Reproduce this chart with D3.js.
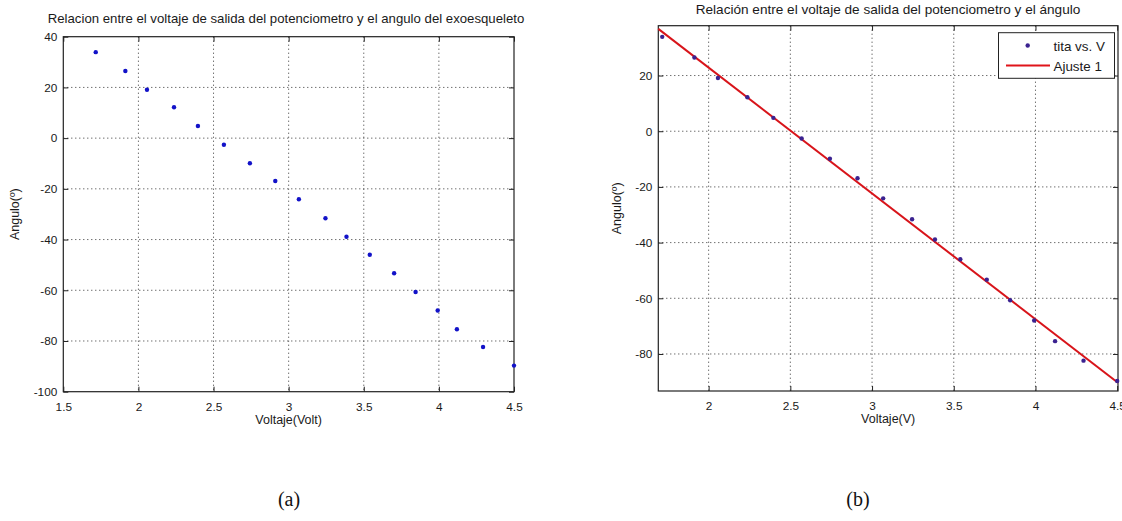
<!DOCTYPE html>
<html>
<head>
<meta charset="utf-8">
<script src="https://cdn.jsdelivr.net/npm/d3@7"></script>
<style>
  body { margin: 0; background: #fff; }
</style>
</head>
<body>
<div id="chart"></div>
<script>
// data
var voltaje = [1.716, 1.913, 2.057, 2.237, 2.396, 2.569, 2.742, 2.911, 3.068,
               3.245, 3.385, 3.540, 3.702, 3.845, 3.992, 4.120, 4.294, 4.500];
var angulo  = [33.9, 26.5, 19.1, 12.2, 4.8, -2.6, -9.9, -16.9, -24.1,
               -31.6, -38.9, -46.0, -53.3, -60.7, -68.0, -75.4, -82.4, -89.7];

var xTicksA = [1.5, 2, 2.5, 3, 3.5, 4, 4.5];
var yTicksA = [-100, -80, -60, -40, -20, 0, 20, 40];
var xTicksB = [2, 2.5, 3, 3.5, 4, 4.5];
var yTicksB = [-80, -60, -40, -20, 0, 20];

var legendLabels = ["tita vs. V", "Ajuste 1"];
var captions = ["(a)", "(b)"];

var sans = "'Liberation Sans', Arial, sans-serif";
var serif = "'Liberation Serif', 'Times New Roman', serif";

// least squares line for "Ajuste 1"
var mx = d3.mean(voltaje), my = d3.mean(angulo);
var sxy = d3.sum(voltaje, function(d,i){ return (d-mx)*(angulo[i]-my); });
var sxx = d3.sum(voltaje, function(d){ return (d-mx)*(d-mx); });
var slope = sxy/sxx, intercept = my - slope*mx;

var svg = d3.select("#chart").append("svg")
  .attr("width", 1122)
  .attr("height", 521)
  .style("font-family", sans);

function panel(cfg) {
  var x = d3.scaleLinear().domain(cfg.xDomain).range([cfg.left, cfg.right]);
  var y = d3.scaleLinear().domain(cfg.yDomain).range([cfg.bottom, cfg.top]);
  var g = svg.append("g");
  var w = cfg.right - cfg.left, h = cfg.bottom - cfg.top;

  // dotted grid
  g.selectAll("line.gx").data(cfg.xTicks.filter(function(t){ return x(t) > cfg.left+1 && x(t) < cfg.right-1; }))
    .enter().append("line")
      .attr("x1", function(d){ return x(d); }).attr("x2", function(d){ return x(d); })
      .attr("y1", cfg.top).attr("y2", cfg.bottom)
      .attr("stroke", "#333").attr("stroke-width", 1)
      .attr("stroke-dasharray", "1,3");
  g.selectAll("line.gy").data(cfg.yTicks.filter(function(t){ return y(t) > cfg.top+1 && y(t) < cfg.bottom-1; }))
    .enter().append("line")
      .attr("x1", cfg.left).attr("x2", cfg.right)
      .attr("y1", function(d){ return y(d); }).attr("y2", function(d){ return y(d); })
      .attr("stroke", "#333").attr("stroke-width", 1)
      .attr("stroke-dasharray", "1,3");

  // axes, ticks pointing inwards
  var fmt = function(d){ return String(d); };
  g.append("g").attr("transform", "translate(0," + cfg.bottom + ")")
    .call(d3.axisBottom(x).tickValues(cfg.xTicks).tickFormat(fmt).tickSize(-5).tickPadding(11));
  g.append("g").attr("transform", "translate(" + cfg.left + ",0)")
    .call(d3.axisLeft(y).tickValues(cfg.yTicks).tickFormat(fmt).tickSize(-5).tickPadding(6));
  g.append("g").attr("transform", "translate(0," + cfg.top + ")")
    .call(d3.axisTop(x).tickValues(cfg.xTicks).tickFormat("").tickSize(-5));
  g.append("g").attr("transform", "translate(" + cfg.right + ",0)")
    .call(d3.axisRight(y).tickValues(cfg.yTicks).tickFormat("").tickSize(-5));
  g.selectAll(".domain").remove();
  g.selectAll(".tick line").attr("stroke", "#222");
  g.selectAll(".tick text")
    .style("font-family", sans).style("font-size", "11.8px")
    .attr("fill", "#1a1a1a");

  g.append("rect")
    .attr("x", cfg.left).attr("y", cfg.top)
    .attr("width", w).attr("height", h)
    .attr("fill", "none").attr("stroke", "#222").attr("stroke-width", 1.2);

  if (cfg.fit) {
    g.append("line")
      .attr("x1", x(cfg.xDomain[0])).attr("y1", y(slope*cfg.xDomain[0] + intercept))
      .attr("x2", x(cfg.xDomain[1])).attr("y2", y(slope*cfg.xDomain[1] + intercept))
      .attr("stroke", "#d8141a").attr("stroke-width", 2);
  }

  g.selectAll("circle.pt").data(voltaje)
    .enter().append("circle")
      .attr("cx", function(d){ return x(d); })
      .attr("cy", function(d,i){ return y(angulo[i]); })
      .attr("r", 2.2)
      .attr("fill", cfg.markerColor);

  g.append("text")
    .attr("x", cfg.titleX).attr("y", cfg.titleY)
    .attr("text-anchor", "middle").attr("fill", "#1a1a1a")
    .style("font-size", cfg.titleSize + "px")
    .text(cfg.title);
  g.append("text")
    .attr("x", (cfg.left+cfg.right)/2).attr("y", cfg.bottom + 32)
    .attr("text-anchor", "middle").attr("fill", "#1a1a1a")
    .style("font-size", "12.5px")
    .text(cfg.xLabel);
  g.append("text")
    .attr("transform", "translate(" + cfg.yLabelX + "," + ((cfg.top+cfg.bottom)/2) + ") rotate(-90)")
    .attr("text-anchor", "middle").attr("fill", "#1a1a1a")
    .style("font-size", "12.5px")
    .text("Angulo(º)");

  return {x: x, y: y, g: g};
}

panel({
  left: 63.3, right: 514, top: 36.7, bottom: 391.7,
  xDomain: [1.5, 4.5], yDomain: [-100, 40],
  xTicks: xTicksA, yTicks: yTicksA,
  markerColor: "#1212c8",
  title: "Relacion entre el voltaje de salida del potenciometro y el angulo del exoesqueleto",
  titleX: 286, titleY: 23, titleSize: 13.2,
  xLabel: "Voltaje(Volt)", yLabelX: 19,
  fit: false
});

panel({
  left: 658.3, right: 1118, top: 25.7, bottom: 391,
  xDomain: [1.692, 4.505], yDomain: [-93.3, 37.9],
  xTicks: xTicksB, yTicks: yTicksB,
  markerColor: "#3b2290",
  title: "Relación entre el voltaje de salida del potenciometro y el ángulo",
  titleX: 888, titleY: 14, titleSize: 13.6,
  xLabel: "Voltaje(V)", yLabelX: 621,
  fit: true
});

// legend
var lg = svg.append("g");
lg.append("rect")
  .attr("x", 998.5).attr("y", 32.7).attr("width", 116).attr("height", 45.6)
  .attr("fill", "#fff").attr("stroke", "#222").attr("stroke-width", 1);
lg.append("circle").attr("cx", 1027.7).attr("cy", 45.5).attr("r", 2.2).attr("fill", "#3b2290");
lg.append("line").attr("x1", 1006).attr("x2", 1050).attr("y1", 65.5).attr("y2", 65.5)
  .attr("stroke", "#e0141a").attr("stroke-width", 2);
lg.selectAll("text").data(legendLabels)
  .enter().append("text")
    .attr("x", 1053.5)
    .attr("y", function(d,i){ return 50.5 + i*20; })
    .attr("fill", "#1a1a1a")
    .style("font-size", "13.4px")
    .text(function(d){ return d; });

// captions
svg.selectAll("text.cap").data(captions)
  .enter().append("text")
    .attr("class", "cap")
    .attr("x", function(d,i){ return i === 0 ? 289 : 858; })
    .attr("y", 506)
    .attr("text-anchor", "middle")
    .style("font-size", "20px")
    .style("font-family", serif)
    .attr("fill", "#111")
    .text(function(d){ return d; });
</script>
</body>
</html>
